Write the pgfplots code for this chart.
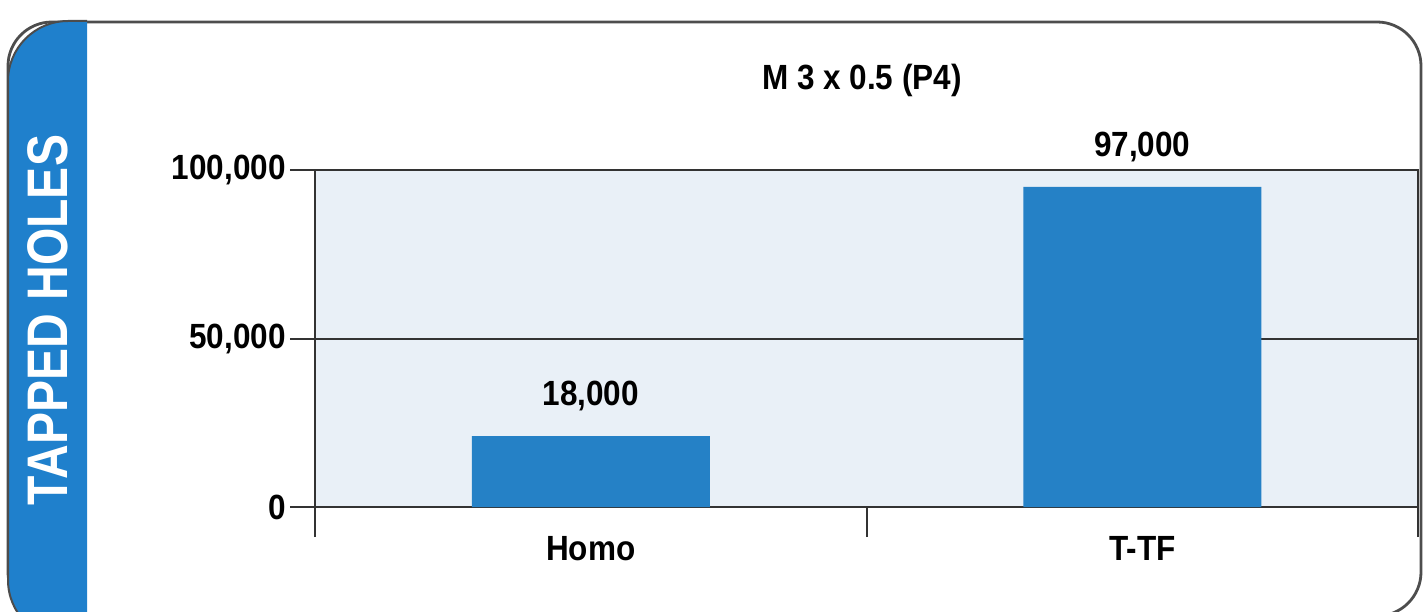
\documentclass[border=0pt]{standalone}
\usepackage{fontspec}
\setmainfont{Liberation Sans}[FakeStretch=0.9]
\newfontfamily\tabfont{Liberation Sans}[FakeStretch=0.84]
\usepackage{pgfplots}
\pgfplotsset{compat=1.18}
\definecolor{barblue}{HTML}{2581C6}
\definecolor{tabblue}{HTML}{1F80CC}
\definecolor{bgblue}{HTML}{E9F0F7}
\definecolor{framegray}{HTML}{4D4D4D}
\definecolor{axisgray}{HTML}{333333}
\begin{document}
\begin{tikzpicture}
\path[use as bounding box] (0pt,0pt) rectangle (711.5pt,305.5pt);
\clip (0pt,0pt) rectangle (711.5pt,305.5pt);
% outer frame and side tab
\draw[framegray, line width=1.4pt, rounded corners=22pt] (4pt,294.5pt) rectangle (710.5pt,-2.5pt);
\begin{scope}
  \clip (0pt,-20pt) rectangle (43.5pt,300pt);
  \fill[tabblue, rounded corners=30pt] (4pt,295pt) rectangle (80pt,-14.5pt);
  \draw[black!70, line width=1pt, rounded corners=30pt] (4pt,295pt) rectangle (80pt,-14.5pt);
\end{scope}
\node[rotate=90, text=white, font=\tabfont\bfseries\fontsize{28.6}{30}\selectfont] at (24pt,145.5pt) {TAPPED HOLES};
\node[font=\bfseries\fontsize{17.5}{20}\selectfont] at (431pt,265.5pt) {M 3 x 0.5 (P4)};
\begin{axis}[
  at={(157.5pt,52pt)}, anchor=south west,
  scale only axis, width=551.5pt, height=168.5pt,
  xmin=0, xmax=2, ymin=0, ymax=100000,
  axis background/.style={fill=bgblue},
  axis line style={axisgray, line width=1pt},
  ybar, bar width=119pt,
  ytick={0,50000,100000}, ymajorgrids,
  grid style={axisgray, line width=1pt},
  scaled y ticks=false,
  tick align=outside, ytick pos=left, xtick pos=bottom,
  major tick length=12.5pt,
  tick style={axisgray, line width=1pt},
  xtick={0.5,1.5}, xticklabels={Homo,T-TF},
  xtick style={draw=none},
  extra x ticks={0,1,2}, extra x tick labels={},
  extra x tick style={major tick length=15pt, xtick style={draw=axisgray}},
  /pgf/number format/.cd, fixed, 1000 sep={,}, assume math mode=true,
  /pgfplots/.cd,
  ticklabel style={font=\bfseries\fontsize{17.5}{20}\selectfont, inner sep=2pt},
  point meta=explicit symbolic,
  nodes near coords,
  every node near coord/.append style={font=\bfseries\fontsize{17.5}{20}\selectfont, anchor=south, yshift=9pt},
]
\addplot[fill=barblue, draw=none] coordinates {(0.5,21000) [18{,}000] (1.5,95000) [97{,}000]};
\end{axis}
\end{tikzpicture}
\end{document}
